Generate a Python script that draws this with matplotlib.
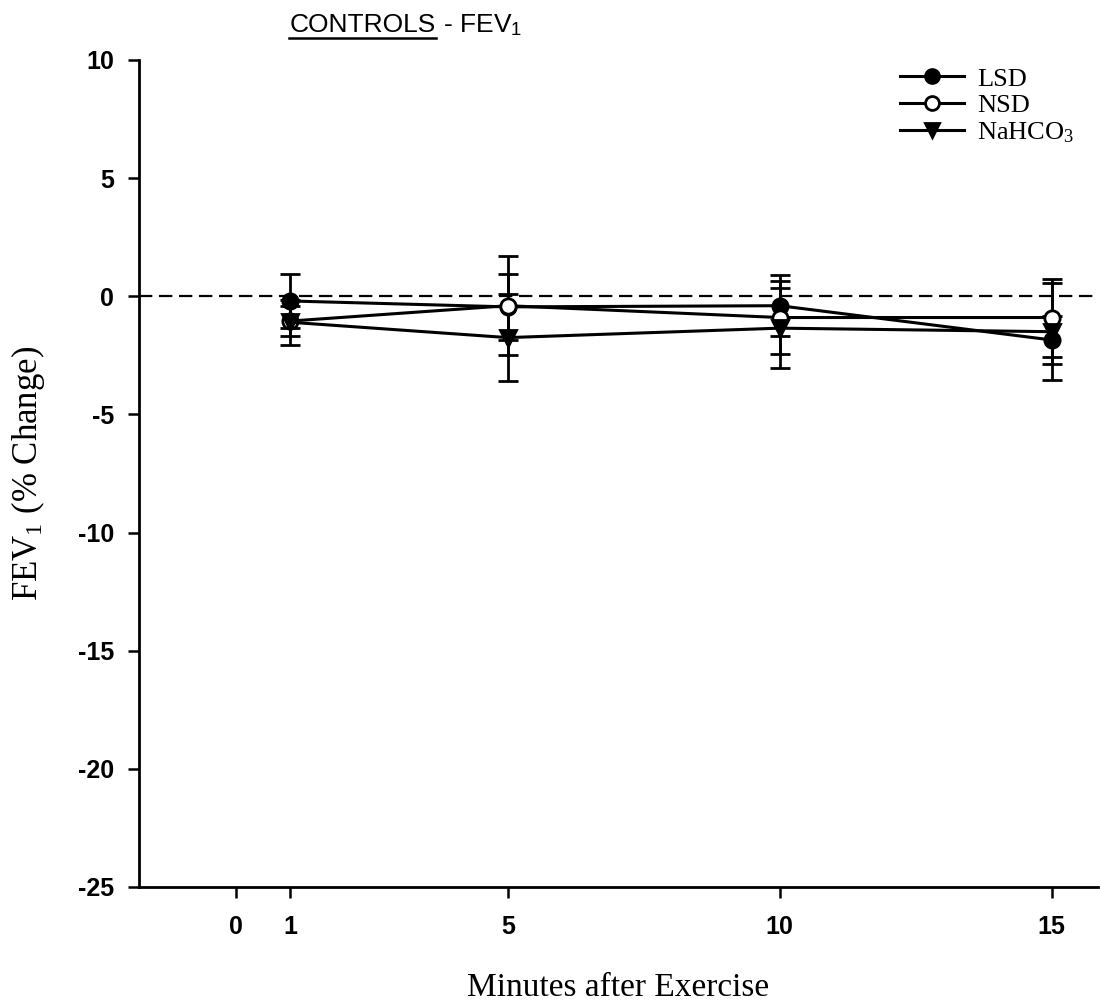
import numpy as np
import matplotlib
matplotlib.use('Agg')
import matplotlib.pyplot as plt
from matplotlib.lines import Line2D

plt.rcParams['mathtext.fontset'] = 'custom'
plt.rcParams['mathtext.rm'] = 'Liberation Serif'
plt.rcParams['mathtext.sf'] = 'Liberation Sans'
plt.rcParams['mathtext.it'] = 'Liberation Serif:italic'

minutes = [1, 5, 10, 15]

lsd = [-0.2, -0.45, -0.4, -1.85]
lsd_err = [1.15, 1.4, 1.3, 1.0]

nsd = [-1.05, -0.4, -0.9, -0.9]
nsd_err = [0.65, 2.1, 1.55, 1.65]

nahco3 = [-1.1, -1.75, -1.35, -1.5]
nahco3_err = [0.95, 1.85, 1.7, 2.05]

x_ticks = [0, 1, 5, 10, 15]
y_ticks = [10, 5, 0, -5, -10, -15, -20, -25]

SERIF = 'Liberation Serif'
SANS = 'Liberation Sans'

fig = plt.figure(figsize=(11, 10.01), dpi=100)
ax = fig.add_axes([0.1264, 0.1139, 0.8716, 0.8262])

ax.axhline(0, color='black', lw=1.6, ls=(0, (6, 3)), zorder=1)

series = [
    (lsd, lsd_err, dict(marker='o', mfc='black'), 'LSD'),
    (nsd, nsd_err, dict(marker='o', mfc='white'), 'NSD'),
    (nahco3, nahco3_err, dict(marker='v', mfc='black'), 'NaHCO$_\\mathrm{3}$'),
]
for vals, err, sty, label in series:
    ax.errorbar(minutes, vals, yerr=err, color='black', ecolor='black',
                lw=2.2, elinewidth=2.0, capsize=7, capthick=2.0,
                ms=11, mec='black', mew=2.0, zorder=3, **sty)

handles = [Line2D([], [], color='black', lw=2.2, ms=10, mec='black', mew=2.0, **sty)
           for _, _, sty, _ in series]
labels = [s[3] for s in series]
ax.legend(handles, labels, loc='upper right', bbox_to_anchor=(1.0, 1.02),
          frameon=False, prop={'family': SERIF, 'size': 19},
          handlelength=2.4, handletextpad=0.5, labelspacing=0.12)

ax.set_xlim(-1.78, 15.85)
ax.set_ylim(-25, 10)
ax.set_xticks(x_ticks)
ax.set_yticks(y_ticks)
ax.set_xticklabels([str(t) for t in x_ticks], family=SANS, fontsize=18, fontweight='bold')
ax.set_yticklabels([str(t) for t in y_ticks], family=SANS, fontsize=18, fontweight='bold')
ax.tick_params(direction='out', length=8, width=1.8, pad=10)
ax.tick_params(axis='x', pad=12)

for side in ['top', 'right']:
    ax.spines[side].set_visible(False)
for side in ['left', 'bottom']:
    ax.spines[side].set_linewidth(2.0)

ax.set_xlabel('Minutes after Exercise', family=SERIF, fontsize=24, labelpad=24)
ax.set_ylabel('FEV$_\\mathrm{1}$ (% Change)', family=SERIF, fontsize=25, labelpad=22)

# title with underlined group name
t1 = fig.text(0.263, 0.968, 'CONTROLS', family=SANS, fontsize=19, ha='left', va='baseline')
fig.canvas.draw()
bb = t1.get_window_extent()
x0, x1 = bb.x0 / fig.bbox.width, bb.x1 / fig.bbox.width
fig.text(x1, 0.968, ' - FEV$_\\mathsf{1}$', family=SANS, fontsize=19, ha='left', va='baseline')
fig.add_artist(Line2D([x0, x1], [0.962, 0.962], color='black', lw=1.8, transform=fig.transFigure))

fig.savefig('out.png', dpi=100)
